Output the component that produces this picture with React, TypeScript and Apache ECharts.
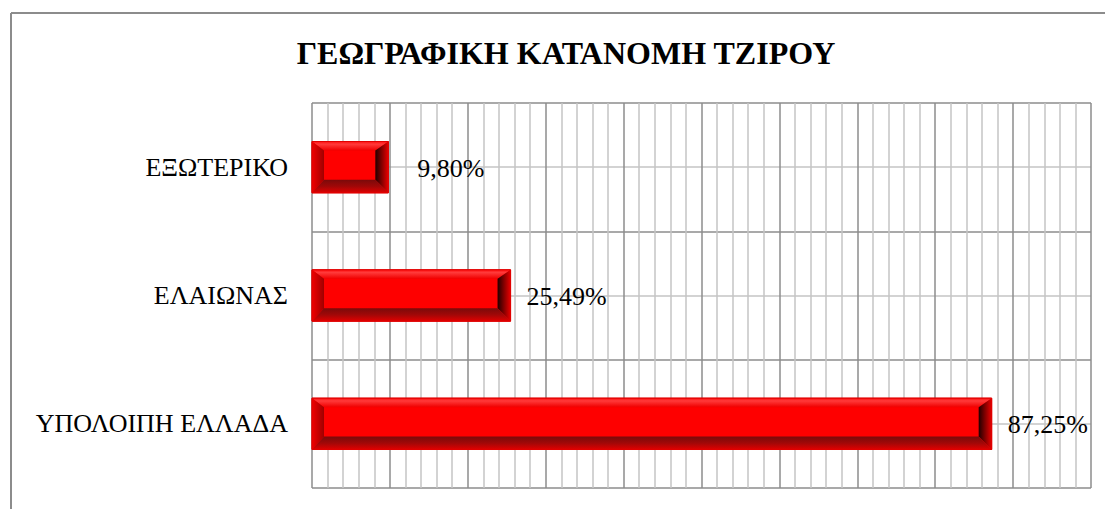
import React, { useEffect, useRef } from "react";
import * as echarts from "echarts";

const categories = ["ΕΞΩΤΕΡΙΚΟ", "ΕΛΑΙΩΝΑΣ", "ΥΠΟΛΟΙΠΗ ΕΛΛΑΔΑ"];
const values = [9.8, 25.49, 87.25];
const titleText = "ΓΕΩΓΡΑΦΙΚΗ ΚΑΤΑΝΟΜΗ ΤΖΙΡΟΥ";
const labelExtraShift = [13, 0, 0];

const FONT = "Liberation Serif";

function fmt(v: number) {
  return v.toFixed(2).replace(".", ",") + "%";
}

export default function App() {
  const ref = useRef<HTMLDivElement>(null);
  useEffect(() => {
    if (!ref.current) return;
    const chart = echarts.init(ref.current, undefined, { renderer: "svg" });
    const lin = (x0: number, y0: number, x1: number, y1: number, stops: [number, string][]) =>
      new echarts.graphic.LinearGradient(x0, y0, x1, y1, stops.map(([offset, color]) => ({ offset, color })));

    const renderItem = (params: any, api: any) => {
      const idx = params.dataIndex;
      const v = api.value(0);
      const catIdx = api.value(1);
      const p0 = api.coord([0, catIdx]);
      const p1 = api.coord([v, catIdx]);
      const h = api.size([0, 1])[1] * 0.4;
      const x0 = p0[0];
      const x1 = p1[0];
      const y0 = p0[1] - h / 2;
      const y1 = p0[1] + h / 2;
      const ix0 = x0 + 12;
      const ix1 = x1 - 13;
      const iy0 = y0 + 9;
      const iy1 = y1 - 13;
      return {
        type: "group",
        children: [
          {
            type: "rect",
            shape: { x: x0, y: y0, width: x1 - x0, height: y1 - y0 },
            style: { fill: "#fe0000", stroke: "#e00000", lineWidth: 1 },
          },
          {
            type: "polygon",
            shape: { points: [[x0, y0], [x1, y0], [ix1, iy0], [ix0, iy0]] },
            style: { fill: lin(0, 0, 0, 1, [[0, "#ff1010"], [0.3, "#ff3a3a"], [1, "#f00000"]]) },
          },
          {
            type: "polygon",
            shape: { points: [[x0, y0], [ix0, iy0], [ix0, iy1], [x0, y1]] },
            style: { fill: lin(0, 0, 1, 0, [[0, "#f00000"], [1, "#a00000"]]) },
          },
          {
            type: "polygon",
            shape: { points: [[x1, y0], [x1, y1], [ix1, iy1], [ix1, iy0]] },
            style: { fill: lin(1, 0, 0, 0, [[0, "#e80000"], [0.6, "#700000"], [1, "#200000"]]) },
          },
          {
            type: "polygon",
            shape: { points: [[x0, y1], [ix0, iy1], [ix1, iy1], [x1, y1]] },
            style: { fill: lin(0, 1, 0, 0, [[0, "#e00000"], [0.5, "#a00808"], [1, "#7a0a0a"]]) },
          },
          {
            type: "rect",
            shape: { x: x0, y: y0, width: x1 - x0, height: y1 - y0 },
            style: { fill: "none", stroke: "#e00000", lineWidth: 1 },
          },
          {
            type: "text",
            x: x1 + 16 + (labelExtraShift[idx] || 0),
            y: p0[1] + 1,
            style: {
              text: fmt(v),
              fill: "#000",
              fontFamily: FONT,
              fontSize: 26,
              align: "left",
              verticalAlign: "middle",
            },
          },
        ],
      };
    };

    chart.setOption({
      animation: false,
      backgroundColor: "#ffffff",
      textStyle: { fontFamily: FONT },
      grid: { left: 312, top: 103, right: 14, bottom: 21, containLabel: false },
      xAxis: {
        type: "value",
        min: 0,
        max: 100,
        interval: 10,
        axisLine: { show: false },
        axisTick: { show: false },
        axisLabel: { show: false },
        splitLine: { show: true, lineStyle: { color: "#8c8c8c", width: 1.5 } },
        minorTick: { show: false, splitNumber: 5 },
        minorSplitLine: { show: true, lineStyle: { color: "#c4c4c4", width: 1.5 } },
      },
      yAxis: [
        {
          type: "category",
          data: categories,
          inverse: true,
          axisLine: { show: false },
          axisTick: { show: false },
          axisLabel: { show: true, margin: 24, color: "#000", fontFamily: FONT, fontSize: 26 },
          splitLine: { show: true, lineStyle: { color: "#8c8c8c", width: 1.5 } },
        },
        {
          type: "value",
          min: 0,
          max: 3,
          interval: 1,
          position: "right",
          axisLine: { show: false },
          axisTick: { show: false },
          axisLabel: { show: false },
          splitLine: { show: false },
          minorTick: { show: false, splitNumber: 2 },
          minorSplitLine: { show: true, lineStyle: { color: "#c4c4c4", width: 1.5 } },
        },
      ],
      graphic: [
        {
          type: "line",
          shape: { x1: 11, y1: 13, x2: 1105, y2: 13 },
          style: { stroke: "#8c8c8c", lineWidth: 2 },
          z: 10,
        },
        {
          type: "line",
          shape: { x1: 11, y1: 13, x2: 11, y2: 509 },
          style: { stroke: "#8c8c8c", lineWidth: 2 },
          z: 10,
        },
        {
          type: "text",
          x: 566,
          y: 53,
          style: {
            text: titleText,
            fill: "#000",
            fontFamily: FONT,
            fontWeight: "bold",
            fontSize: 32,
            align: "center",
            verticalAlign: "middle",
          },
        },
      ],
      series: [
        {
          type: "custom",
          xAxisIndex: 0,
          yAxisIndex: 0,
          renderItem,
          encode: { x: 0, y: 1 },
          data: values.map((v, i) => [v, i]),
          z: 5,
        },
      ],
    });
    return () => chart.dispose();
  }, []);
  return (
    <div
      ref={ref}
      style={{ position: "fixed", left: 0, top: 0, width: 1105, height: 509 }}
    />
  );
}
